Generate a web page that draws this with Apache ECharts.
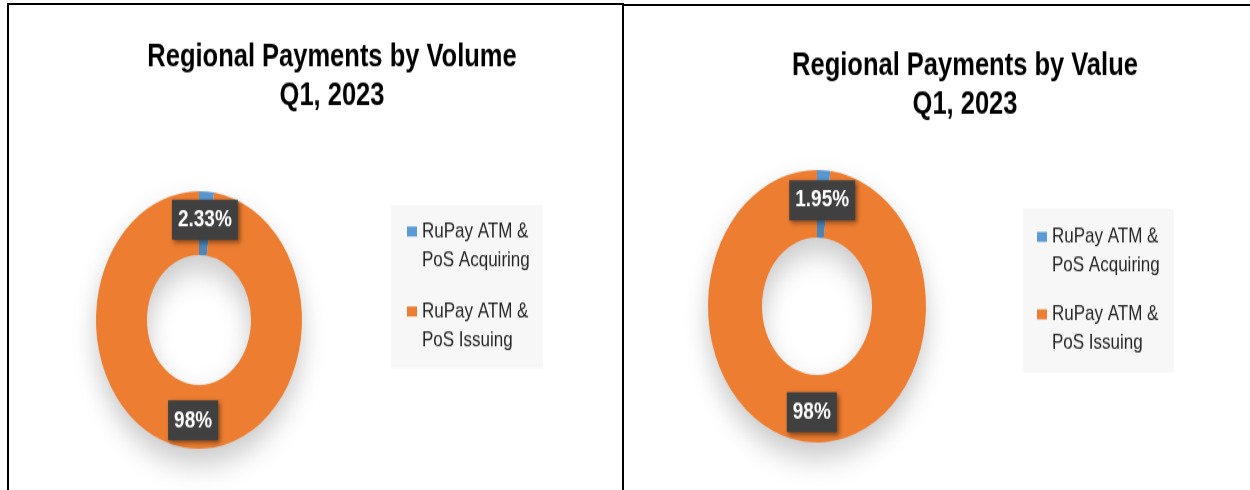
<!DOCTYPE html>
<html>
<head>
<meta charset="utf-8">
<script src="https://cdn.jsdelivr.net/npm/echarts@6/dist/echarts.min.js"></script>
<style>
  html, body { margin: 0; padding: 0; background: #ffffff; }
  body { width: 1250px; height: 490px; position: relative; overflow: hidden; }
  #stage { position: absolute; left: 0; top: 0; width: 1250px; height: 392px;
           transform: scaleY(1.25); transform-origin: 0 0; }
  .ln { position: absolute; background: #000; }
</style>
</head>
<body>
<div id="stage"></div>
<div class="ln" style="left:7px;top:3px;width:2px;height:487px;"></div>
<div class="ln" style="left:7px;top:3px;width:617px;height:2px;"></div>
<div class="ln" style="left:622px;top:3px;width:2px;height:487px;"></div>
<div class="ln" style="left:624px;top:4px;width:626px;height:2px;"></div>
<script>
// ---- data ----
const categories = ['RuPay ATM &\nPoS Acquiring', 'RuPay ATM &\nPoS Issuing'];
const volumeShares = [2.33, 97.67];
const valueShares = [1.95, 98.05];
const volumeLabels = ['2.33%', '98%'];
const valueLabels = ['1.95%', '98%'];
const titles = ['Regional Payments by Volume\nQ1, 2023', 'Regional Payments by Value\nQ1, 2023'];
const sliceColors = ['#5B9BD5', '#ED7D31'];

const FONT = "'Liberation Sans', Arial, sans-serif";
const chart = echarts.init(document.getElementById('stage'), null, { renderer: 'canvas' });

function pieData(values) {
  return categories.map((name, i) => ({ name: name, value: values[i], itemStyle: { color: sliceColors[i] } }));
}
function labelCfg(labels) {
  return {
    show: true,
    position: 'inside',
    formatter: p => labels[p.dataIndex],
    color: '#ffffff',
    fontFamily: FONT,
    fontSize: 19,
    fontWeight: 'bold',
    lineHeight: 22,
    backgroundColor: '#404040',
    padding: [5, 6, 5, 6],
    shadowBlur: 4,
    shadowColor: 'rgba(0,0,0,0.45)',
    shadowOffsetX: 2,
    shadowOffsetY: 2
  };
}
const legendIcon = 'path://M0,0M0,7.5h10v8h-10zM10,46';
function legendCfg(left, top, padding, gap) {
  return {
    orient: 'vertical',
    left: left,
    top: top,
    data: categories,
    icon: legendIcon,
    itemWidth: 10,
    itemHeight: 46,
    itemGap: gap,
    padding: padding,
    backgroundColor: '#f7f7f7',
    selectedMode: false,
    itemStyle: { borderWidth: 0 },
    textStyle: { fontFamily: FONT, fontSize: 17, lineHeight: 23, color: '#262626' }
  };
}
function pieSeries(name, center, radius, values, labels) {
  return {
    type: 'pie',
    name: name,
    center: center,
    radius: radius,
    startAngle: 90,
    clockwise: true,
    avoidLabelOverlap: false,
    silent: true,
    itemStyle: { borderWidth: 0, shadowBlur: 24, shadowOffsetY: 12, shadowColor: 'rgba(0,0,0,0.22)' },
    label: labelCfg(labels),
    labelLine: { show: false },
    data: pieData(values)
  };
}

chart.setOption({
  animation: false,
  backgroundColor: 'transparent',
  title: [
    { text: titles[0], left: 332, top: 30, textAlign: 'center', padding: 0,
      textStyle: { fontFamily: FONT, fontSize: 25.5, fontWeight: 'bold', lineHeight: 31.2, color: '#000' } },
    { text: titles[1], left: 965, top: 37, textAlign: 'center', padding: 0,
      textStyle: { fontFamily: FONT, fontSize: 25.5, fontWeight: 'bold', lineHeight: 31.2, color: '#000' } }
  ],
  legend: [
    legendCfg(391, 164, [9.7, 13, 10.7, 16], 18),
    legendCfg(1023, 167, [11, 14, 12, 14], 16)
  ],
  series: [
    pieSeries('Volume', [199, 256], [52, 103], volumeShares, volumeLabels),
    pieSeries('Value', [817, 245], [55, 109], valueShares, valueLabels)
  ]
});
</script>
</body>
</html>
